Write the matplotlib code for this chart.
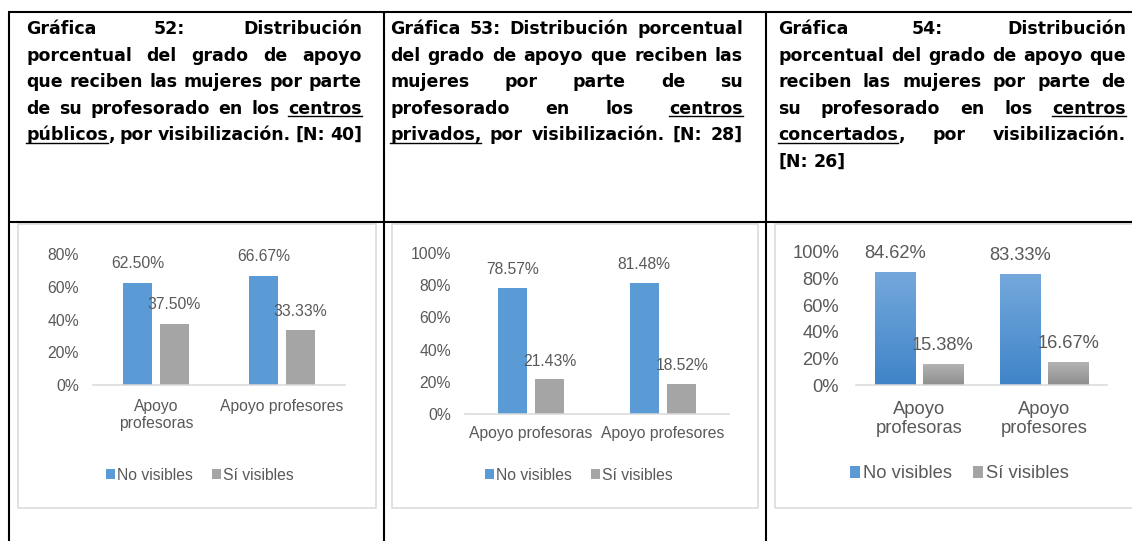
import numpy as np
import matplotlib
matplotlib.use("Agg")
import matplotlib.pyplot as plt
from matplotlib.patches import Rectangle
from matplotlib.lines import Line2D
from matplotlib.colors import LinearSegmentedColormap

# ---------------------------------------------------------------- data
series_names = ["No visibles", "Sí visibles"]

categories_52 = ["Apoyo\nprofesoras", "Apoyo profesores"]
no_visibles_52 = [62.50, 66.67]
si_visibles_52 = [37.50, 33.33]
yticks_52 = [0, 20, 40, 60, 80]

categories_53 = ["Apoyo profesoras", "Apoyo profesores"]
no_visibles_53 = [78.57, 81.48]
si_visibles_53 = [21.43, 18.52]
yticks_53 = [0, 20, 40, 60, 80, 100]

categories_54 = ["Apoyo\nprofesoras", "Apoyo\nprofesores"]
no_visibles_54 = [84.62, 83.33]
si_visibles_54 = [15.38, 16.67]
yticks_54 = [0, 20, 40, 60, 80, 100]

# header lines; text between underscores is underlined
header_52 = [
    "Gráfica 52: Distribución",
    "porcentual del grado de apoyo",
    "que reciben las mujeres por parte",
    "de su profesorado en los _centros_",
    "_públicos_, por visibilización. [N: 40]",
]
header_53 = [
    "Gráfica 53: Distribución porcentual",
    "del grado de apoyo que reciben las",
    "mujeres por parte de su",
    "profesorado en los _centros_",
    "_privados,_ por visibilización. [N: 28]",
]
header_54 = [
    "Gráfica 54: Distribución",
    "porcentual del grado de apoyo que",
    "reciben las mujeres por parte de",
    "su profesorado en los _centros_",
    "_concertados_, por visibilización.",
    "[N: 26]",
]

# ---------------------------------------------------------------- style
W, H, DPI = 1132, 541, 100
BLUE = "#5B9BD5"
GRAY = "#A5A5A5"
TXT = "#595959"
FRAME = "#D9D9D9"
plt.rcParams["font.family"] = ["Liberation Sans", "DejaVu Sans"]

fig = plt.figure(figsize=(W / DPI, H / DPI), dpi=DPI)
fig.patch.set_facecolor("white")


def fx(x):
    return x / W


def fy(y):
    return 1 - y / H


# ---------------------------------------------------------------- table grid
def hline(x0, x1, y, **kw):
    fig.add_artist(Line2D([fx(x0), fx(x1)], [fy(y), fy(y)],
                          transform=fig.transFigure, **kw))


def vline(x, y0, y1, **kw):
    fig.add_artist(Line2D([fx(x), fx(x)], [fy(y0), fy(y1)],
                          transform=fig.transFigure, **kw))


grid = dict(color="black", lw=1.5, solid_capstyle="butt")
hline(7.5, W, 12, **grid)
hline(7.5, W, 222, **grid)
vline(8.5, 11.5, H, **grid)
vline(384, 11.5, H, **grid)
vline(766, 11.5, H, **grid)

# chart frames
for (x0, x1) in [(18, 376), (392, 758), (775, 1145)]:
    fig.add_artist(Rectangle((fx(x0), fy(508)), (x1 - x0) / W, (508 - 224) / H,
                             transform=fig.transFigure, fill=False,
                             edgecolor=FRAME, lw=1.1, zorder=0))

# ---------------------------------------------------------------- headers
renderer = fig.canvas.get_renderer()
HEAD_FONT = dict(family="DejaVu Sans", weight="bold", size=12.5, color="black")


def text_width(s):
    t = fig.text(0, 0, s, **HEAD_FONT)
    w = t.get_window_extent(renderer).width
    t.remove()
    return w


def draw_header(lines, x0, x1, y0, step):
    space = text_width("a a") - text_width("aa")
    avail = x1 - x0
    for i, line in enumerate(lines):
        yb = y0 + i * step
        words = []
        for w in line.split(" "):
            parts = w.split("_")
            segs = [(p, j % 2 == 1) for j, p in enumerate(parts) if p]
            widths = [text_width(p) for p, _ in segs]
            words.append((segs, widths))
        natural = sum(sum(ws) for _, ws in words)
        last = i == len(lines) - 1
        full = natural + space * (len(words) - 1) > 0.8 * avail
        if len(words) > 1 and (not last or full):
            gap = (avail - natural) / (len(words) - 1)
        else:
            gap = space
        x = x0
        for segs, widths in words:
            for (s, under), w in zip(segs, widths):
                fig.text(fx(x), fy(yb), s, ha="left", va="baseline", **HEAD_FONT)
                if under:
                    hline(x, x + w, yb + 2.6, color="black", lw=1.0)
                x += w
            x += gap


draw_header(header_52, 26, 362, 34.5, 26.4)
draw_header(header_53, 390, 743, 34.5, 26.4)
draw_header(header_54, 778, 1126, 34.5, 26.4)


# ---------------------------------------------------------------- charts
def add_axes_px(x0, x1, ytop, ybot):
    return fig.add_axes([fx(x0), fy(ybot), (x1 - x0) / W, (ybot - ytop) / H])


def gradient_fill(ax, bars, top_color, bottom_color):
    cmap = LinearSegmentedColormap.from_list("grad", [bottom_color, top_color])
    grad = np.linspace(0, 1, 128).reshape(-1, 1)
    for r in bars:
        x0, w, h = r.get_x(), r.get_width(), r.get_height()
        ax.imshow(grad, extent=[x0, x0 + w, 0, h], origin="lower",
                  aspect="auto", cmap=cmap, zorder=3)


def draw_chart(ax, cats, s1, s2, yticks, width, offset, fs, label_off,
               ypad, xpad, lsp, legend_xy, leg_kw, gradient=False):
    x = np.arange(len(cats))
    b1 = ax.bar(x - offset, s1, width, color=BLUE, zorder=2, label=series_names[0])
    b2 = ax.bar(x + offset, s2, width, color=GRAY, zorder=2, label=series_names[1])
    if gradient:
        gradient_fill(ax, b1, "#74A8DC", "#3F84C8")
        gradient_fill(ax, b2, "#B3B3B3", "#8E8E8E")
    ax.set_xlim(-0.5, len(cats) - 0.5)
    ax.set_ylim(yticks[0], yticks[-1])
    ax.set_yticks(yticks)
    ax.set_yticklabels([f"{t}%" for t in yticks])
    ax.set_xticks(x)
    ax.set_xticklabels(cats, linespacing=lsp)
    ax.tick_params(axis="y", length=0, pad=ypad, labelsize=fs, labelcolor=TXT)
    ax.tick_params(axis="x", length=0, pad=xpad, labelsize=fs, labelcolor=TXT)
    for side in ("left", "right", "top"):
        ax.spines[side].set_visible(False)
    ax.spines["bottom"].set_color(FRAME)
    ax.spines["bottom"].set_linewidth(1.1)
    ax.spines["bottom"].set_zorder(4)
    ax.patch.set_visible(False)
    for bars, vals in ((b1, s1), (b2, s2)):
        for r, v in zip(bars, vals):
            ax.annotate(f"{v:.2f}%", (r.get_x() + r.get_width() / 2, v),
                        xytext=(0, label_off), textcoords="offset points",
                        ha="center", va="center", fontsize=fs, color=TXT,
                        zorder=5)
    ax.legend(handles=[b1, b2], labels=series_names, loc="center",
              bbox_to_anchor=(fx(legend_xy[0]), fy(legend_xy[1])),
              bbox_transform=fig.transFigure, ncol=2, frameon=False,
              fontsize=fs, labelcolor=TXT, borderaxespad=0, **leg_kw)


ax52 = add_axes_px(93, 345, 254, 385)
draw_chart(ax52, categories_52, no_visibles_52, si_visibles_52, yticks_52,
           width=0.23, offset=0.143, fs=11.3, label_off=13.7,
           ypad=10, xpad=9.9, lsp=1.18, legend_xy=(200, 475),
           leg_kw=dict(handlelength=0.57, handleheight=0.57,
                       handletextpad=0.13, columnspacing=1.2))

ax53 = add_axes_px(465, 729, 253, 414)
draw_chart(ax53, categories_53, no_visibles_53, si_visibles_53, yticks_53,
           width=0.22, offset=0.142, fs=11.3, label_off=13.3,
           ypad=10, xpad=8.9, lsp=1.18, legend_xy=(579, 475),
           leg_kw=dict(handlelength=0.57, handleheight=0.57,
                       handletextpad=0.13, columnspacing=1.2))

ax54 = add_axes_px(856, 1107, 252, 385)
draw_chart(ax54, categories_54, no_visibles_54, si_visibles_54, yticks_54,
           width=0.32, offset=0.191, fs=13.2, label_off=13.7,
           ypad=12.2, xpad=11.6, lsp=1.12, legend_xy=(959, 474),
           leg_kw=dict(handlelength=0.55, handleheight=0.55,
                       handletextpad=0.16, columnspacing=1.15),
           gradient=True)

fig.savefig("out.png", dpi=DPI, facecolor="white")
